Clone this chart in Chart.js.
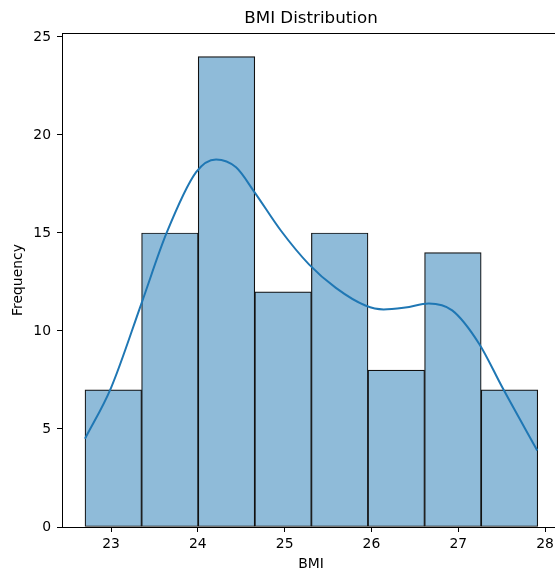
<!DOCTYPE html>
<html>
<head>
<meta charset="utf-8">
<script src="https://cdn.jsdelivr.net/npm/chart.js@4"></script>
<style>
  html, body { margin: 0; padding: 0; background: #fff; overflow: hidden; }
  #wrap { width: 560px; height: 573px; }
</style>
</head>
<body>
<div id="wrap"><canvas id="bmi-chart" width="560" height="573"></canvas></div>
<script>
// BMI histogram + KDE

const binEdges = [22.700, 23.352, 24.004, 24.656, 25.308, 25.960, 26.612, 27.264, 27.916];
const counts = [7, 15, 24, 12, 15, 8, 14, 7];

const kdeX = [22.70, 23.00, 23.35, 23.64, 23.98, 24.21, 24.44, 24.65, 24.96, 25.28,
              25.59, 25.93, 26.14, 26.39, 26.66, 26.93, 27.24, 27.51, 27.91];
const kdeY = [4.5, 7.1, 11.4, 15.0, 18.1, 18.75, 18.35, 17.1, 15.1, 13.4,
              12.2, 11.3, 11.1, 11.2, 11.4, 11.05, 9.35, 7.1, 3.9];

const xTicks = [23, 24, 25, 26, 27, 28];
const yTicks = [0, 5, 10, 15, 20, 25];

const bars = counts.map((c, i) => ({ x: (binEdges[i] + binEdges[i + 1]) / 2, y: c }));
const kde = kdeX.map((x, i) => ({ x: x, y: kdeY[i] }));

Chart.defaults.font.family = 'DejaVu Sans';
Chart.defaults.color = '#000';

// frame round the plot area (matplotlib spines)
const frame = {
    id: 'frame',
    afterDatasetsDraw(chart) {
        const a = chart.chartArea;
        const ctx = chart.ctx;
        ctx.save();
        ctx.strokeStyle = '#000';
        ctx.lineWidth = 1;
        ctx.strokeRect(Math.round(a.left) + 0.5, Math.round(a.top) + 0.5,
                       Math.round(a.right - a.left), Math.round(a.bottom - a.top));
        ctx.restore();
    }
};

const ctx = document.getElementById('bmi-chart').getContext('2d');
new Chart(ctx, {
    type: 'bar',
    data: {
        datasets: [{
            type: 'line',
            data: kde,
            borderColor: '#1f77b4',
            borderWidth: 2,
            pointRadius: 0,
            fill: false,
            cubicInterpolationMode: 'monotone'
        }, {
            type: 'bar',
            data: bars,
            backgroundColor: '#8fbbd9',
            borderColor: '#111',
            borderWidth: 1.2,
            borderSkipped: false,
            barPercentage: 1,
            categoryPercentage: 1
        }]
    },
    options: {
        responsive: false,
        animation: false,
        layout: { padding: 0 },
        plugins: {
            legend: { display: false },
            tooltip: { enabled: false },
            title: {
                display: true,
                text: 'BMI Distribution',
                fullSize: false,
                font: { size: 16.7, weight: 'normal' },
                padding: { top: 8.5, bottom: 4.5 }
            }
        },
        scales: {
            x: {
                type: 'linear',
                min: 22.435,
                max: 28.172,
                offset: false,
                grid: { display: true, drawOnChartArea: false, drawTicks: true, tickLength: 5, color: '#000', offset: false },
                border: { display: false },
                ticks: { font: { size: 13.9 }, padding: 4 },
                afterBuildTicks: s => { s.ticks = xTicks.map(v => ({ value: v })); },
                afterFit: s => { s.height = 46; },
                title: { display: true, text: 'BMI', font: { size: 13.9 }, padding: { top: 0, bottom: 0 } }
            },
            y: {
                min: 0,
                max: 25.2,
                grid: { display: true, drawOnChartArea: false, drawTicks: true, tickLength: 5, color: '#000' },
                border: { display: false },
                ticks: { font: { size: 13.9 }, padding: 6 },
                afterBuildTicks: s => { s.ticks = yTicks.map(v => ({ value: v })); },
                afterFit: s => { s.width = 62; },
                title: { display: true, text: 'Frequency', font: { size: 13.9 }, padding: { top: 10, bottom: 0 } }
            }
        }
    },
    plugins: [frame]
});
</script>
</body>
</html>
